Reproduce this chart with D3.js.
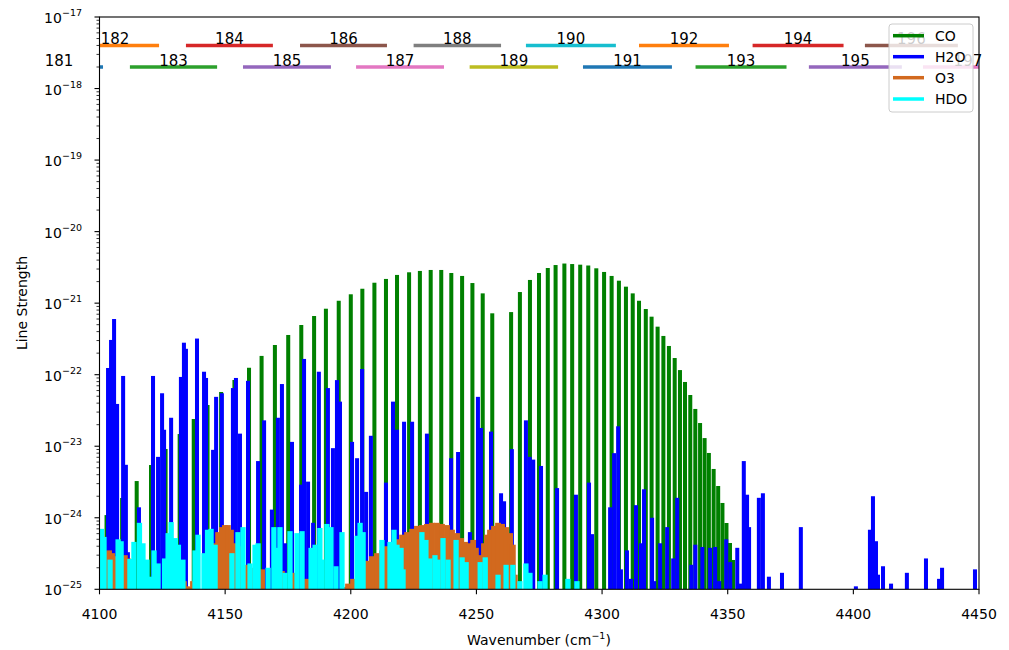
<!DOCTYPE html>
<html><head><meta charset="utf-8">
<script src="https://cdn.jsdelivr.net/npm/d3@7/dist/d3.min.js"></script>
<style>
body{margin:0;background:#fff;}
svg{font-family:"DejaVu Sans",sans-serif;}
</style></head>
<body>
<svg id="c" width="1009" height="650"></svg>
<script>
// ---------------- DATA ----------------
const xTicks = [4100,4150,4200,4250,4300,4350,4400,4450];
const yTickExps = [-25,-24,-23,-22,-21,-20,-19,-18,-17];

// CO (P branch then R branch)
const coWave = [4102.8,4109.0,4114.8,4120.5,4126.3,4131.9,4137.5,4143.0,4148.4,4153.7,4159.5,4164.5,4169.8,4175.1,4180.3,4185.4,4190.1,4195.2,4200.0,4204.6,4209.4,4214.0,4218.4,4223.2,4227.5,4231.8,4236.0,4240.0,4244.3,4248.4,4252.5,4256.3,
 4263.8,4267.3,4271.3,4274.9,4278.4,4281.5,4285.0,4288.1,4291.3,4294.5,4297.7,4300.8,4303.8,4306.7,4309.5,4312.2,4314.7,4317.4,4319.7,4322.1,4324.4,4326.6,4328.9,4331.0,4333.0,4335.1,4337.1,4339.0,4340.8,4342.5,4344.4,4346.2,4347.9,4349.5,4350.9,4352.1];
const coStr = [1.09e-24,1.89e-24,3.26e-24,5.46e-24,9.15e-24,1.48e-23,2.40e-23,3.77e-23,5.73e-23,8.43e-23,1.25e-22,1.83e-22,2.60e-22,3.59e-22,4.95e-22,6.61e-22,8.36e-22,1.08e-21,1.33e-21,1.59e-21,1.93e-21,2.18e-21,2.48e-21,2.70e-21,2.82e-21,2.91e-21,2.91e-21,2.64e-21,2.40e-21,1.91e-21,1.37e-21,7.21e-22,
 7.5e-22,1.43e-21,2.11e-21,2.64e-21,3.10e-21,3.41e-21,3.58e-21,3.52e-21,3.45e-21,3.36e-21,3.07e-21,2.73e-21,2.40e-21,2.06e-21,1.70e-21,1.37e-21,1.08e-21,8.28e-22,6.47e-22,4.69e-22,3.48e-22,2.52e-22,1.71e-22,1.16e-22,7.91e-23,5.20e-23,3.32e-23,2.11e-23,1.30e-23,8.05e-24,4.81e-24,2.78e-24,1.61e-24,8.45e-25,4.44e-25,2.57e-25];

// H2O
const h2oWave = [4103.4,4104.6,4105.8,4107.0,4109.4,4110.5,4111.3,4115.7,4121.3,4123.3,4124.9,4125.7,4128.5,4132.4,4133.6,4134.4,4138.8,4141.6,4142.4,4145.2,4146.4,4148.7,4153.1,4154.3,4155.9,4159.1,4163.1,4165.5,4168.6,4171.0,4172.6,4173.8,4176.6,4180.2,4181.4,4183.0,4185.0,4187.3,4190.9,4192.9,4194.5,4195.7,4200.5,4202.5,4204.5,4206.1,4208.0,4214.0,4216.8,4218.4,4221.2,4224.4,4230.3,4239.9,4242.7,4247.4,4250.6,4251.8,4255.8,4259.8,4261.0,4264.1,4269.7,4271.2,4272.6,4275.7,4282.1,4289.6,4294.8,4296.0,4303.2,4304.8,4306.4,4307.5,4309.9,4311.5,4313.5,4315.5,4316.7,4319.9,4320.7,4323.1,4325.9,4328.3,4329.9,4335.5,4337.1,4339.9,4343.0,4345.0,4346.6,4349.4,4351.0,4353.8,4355.0,4356.4,4357.7,4358.5,4362.4,4364.0,4366.4,4371.6,4379.1,4401.0,4406.6,4407.8,4409.0,4409.8,4411.8,4415.0,4421.3,4428.9,4434.1,4435.3,4448.4];
const h2oStr = [1.24e-22,3.06e-22,6.0e-22,3.9e-23,9.6e-23,5.5e-24,3.3e-25,1.4e-24,9.6e-23,7.1e-24,5.5e-23,1.7e-23,2.5e-23,9.3e-23,2.8e-22,2.3e-22,3.2e-22,1.1e-22,9.0e-23,8.9e-24,4.9e-23,5.5e-23,6.5e-23,9.0e-23,1.5e-23,8.2e-23,6.2e-24,2.3e-23,1.3e-24,2.5e-23,7.4e-23,4.4e-25,1.15e-23,2.9e-24,1.66e-22,3.2e-24,8.5e-25,1.1e-22,6.5e-23,9.4e-24,8.4e-23,4.2e-23,1.15e-23,6.8e-24,1.2e-22,2.3e-24,1.4e-23,3.1e-24,4.2e-23,1.7e-23,2.2e-23,2.2e-23,1.5e-23,6.8e-24,8.3e-24,6.3e-25,4.9e-23,1.8e-23,1.6e-23,2.2e-24,1.7e-24,9.1e-24,2.3e-23,7.1e-24,6.5e-24,5.3e-24,2.6e-24,2.1e-24,3.1e-24,5.9e-25,1.4e-24,8.0e-24,1.9e-23,1.9e-25,3.5e-25,1.4e-25,1.5e-24,4.4e-25,2.5e-24,1.0e-24,1.3e-25,4.4e-25,7.4e-25,2.7e-25,1.9e-24,2.2e-25,4.2e-25,3.9e-25,3.8e-25,3.9e-25,1.3e-25,5.0e-25,2.4e-25,3.8e-25,1.2e-25,6.2e-24,2.1e-24,7.4e-25,1.9e-24,2.2e-24,1.5e-25,1.7e-25,7.4e-25,1.1e-25,6.8e-25,2.0e-24,4.7e-25,1.6e-25,2.1e-25,1.2e-25,1.7e-25,2.7e-25,1.4e-25,2.0e-25,1.9e-25];

// O3
const o3Wave = [4100.2,4101.4,4102.6,4103.8,4105.0,4106.2,4109.0,4110.1,4111.3,4112.5,4132.4,4133.6,4134.8,4136.0,4137.2,4138.4,4144.8,4146.0,4147.2,4148.7,4149.9,4151.1,4152.3,4153.5,4155.1,4156.7,4159.1,4161.1,4163.1,4164.7,4172.6,4177.0,4182.6,
 4197.7,4198.9,4200.9,4202.9,4204.9,4206.4,4208.4,4210.4,4212.4,4214.4,4216.4,4218.4,4220.4,4222.4,4224.4,4226.3,4228.3,4230.3,4232.3,4234.3,4236.3,4238.3,4240.3,4242.3,4243.9,4245.5,4247.1,4248.7,4249.8,4250.6,4251.8,4253.0,4254.2,4255.4,4257.0,4258.6,4260.2,4261.8,4263.4,4264.5,4265.3];
const o3Str = [3.5e-25,3.8e-25,3.3e-25,3.5e-25,3.2e-25,2.9e-25,2.9e-25,3.0e-25,2.7e-25,2.4e-25,1.5e-25,1.3e-25,1.1e-25,1.08e-25,1.3e-25,1.4e-25,2.6e-25,4.4e-25,6.3e-25,7.4e-25,7.9e-25,7.9e-25,6.8e-25,4.4e-25,4.0e-25,3.5e-25,2.2e-25,2.0e-25,1.6e-25,1.9e-25,1.8e-25,1.7e-25,1.4e-25,
 1.08e-25,1.2e-25,1.4e-25,1.5e-25,2.0e-25,2.5e-25,2.9e-25,3.2e-25,3.5e-25,4.0e-25,4.4e-25,5.0e-25,5.8e-25,6.3e-25,7.0e-25,7.7e-25,7.9e-25,8.2e-25,8.5e-25,8.5e-25,8.2e-25,7.9e-25,6.8e-25,6.1e-25,5.2e-25,4.6e-25,4.4e-25,4.9e-25,3.8e-25,2.6e-25,3.0e-25,4.4e-25,5.8e-25,6.8e-25,7.7e-25,8.5e-25,8.2e-25,7.4e-25,6.1e-25,4.2e-25,1.6e-25];

// HDO
const hdoWave = [4100.8,4101.8,4104.2,4107.4,4108.6,4112.1,4113.7,4115.9,4117.3,4118.9,4120.5,4121.7,4123.3,4125.9,4127.3,4128.5,4130.2,4131.4,4133.2,4138.0,4139.2,4141.6,4143.0,4144.4,4146.0,4152.7,4155.1,4157.1,4159.9,4161.9,4163.1,4167.1,4169.4,4170.6,4171.8,4173.8,4175.8,4178.6,4180.6,4184.2,4185.8,4187.7,4188.5,4190.5,4192.1,4194.1,4196.5,4202.5,4203.7,4204.9,4212.4,4215.6,4217.2,4218.4,4220.0,4220.8,4228.3,4229.9,4231.5,4233.5,4234.7,4236.7,4238.7,4241.9,4244.3,4245.9,4251.5,4253.5,4258.6,4261.8,4264.5,4267.3,4269.7,4271.3,4275.3,4277.3,4286.4,4290.0];
const hdoStr = [7.0e-25,5.4e-25,2.6e-25,5.0e-25,4.7e-25,2.65e-25,4.6e-25,8.5e-25,4.4e-25,2.6e-25,1.5e-25,3.5e-25,2.3e-25,2.7e-25,6.1e-25,8.7e-25,5.2e-25,4.2e-25,2.6e-25,3.5e-25,5.8e-25,3.2e-25,6.8e-25,7.0e-25,4.2e-25,3.2e-25,6.3e-25,7.4e-25,2.3e-25,4.2e-25,4.4e-25,2.0e-25,7.4e-25,3.8e-25,7.4e-25,1.7e-25,6.5e-25,6.1e-25,6.5e-25,3.8e-25,4.2e-25,7.2e-25,2.6e-25,8.2e-25,7.4e-25,2.1e-25,6.3e-25,5.6e-25,8.5e-25,6.3e-25,4.9e-25,4.6e-25,6.8e-25,4.2e-25,3.8e-25,1.9e-25,6.3e-25,4.9e-25,2.7e-25,3.0e-25,2.6e-25,5.2e-25,2.6e-25,4.9e-25,2.8e-25,2.4e-25,2.4e-25,2.8e-25,1.6e-25,2.2e-25,2.2e-25,1.3e-25,2.3e-25,1.7e-25,1.3e-25,1.6e-25,1.4e-25,1.3e-25];

// Spectral windows
const winIds   = [181,182,183,184,185,186,187,188,189,190,191,192,193,194,195,196,197];
const winStart = [4066.4,4088.7,4112.1,4134.4,4157.1,4179.8,4202.1,4225.0,4247.3,4269.7,4292.4,4314.7,4337.2,4359.9,4382.3,4404.6,4427.7];
const winEnd   = [4101.4,4123.7,4146.8,4169.0,4192.1,4214.4,4237.1,4259.8,4282.5,4305.5,4327.8,4350.5,4373.4,4396.1,4419.3,4441.6,4463.5];
const winLevel = [2e-18,4e-18]; // odd ids lower row, even ids upper row

const species = ["CO","H2O","O3","HDO"];
const speciesColor = {CO:"#008000",H2O:"#0000ff",O3:"#d2691e",HDO:"#00ffff"};
const tab10 = ["#1f77b4","#ff7f0e","#2ca02c","#d62728","#9467bd","#8c564b","#e377c2","#7f7f7f","#bcbd22","#17becf"];

// ---------------- CHART ----------------
const L=99.5,R=979,T=17,B=589.3;
const svg=d3.select("#c");
const x=d3.scaleLinear().domain([4100,4450]).range([L,R]);
const y=d3.scaleLog().domain([1e-25,1e-17]).range([B,T]);

svg.append("defs").append("clipPath").attr("id","clip")
  .append("rect").attr("x",L).attr("y",T).attr("width",R-L).attr("height",B-T);
const plot=svg.append("g").attr("clip-path","url(#clip)");

function bars(wave,str,color,bw){
  const data=wave.map((w,i)=>({w,s:str[i]}));
  plot.append("g").selectAll("rect").data(data).join("rect")
    .attr("x",d=>x(d.w-bw/2))
    .attr("width",d=>x(d.w+bw/2)-x(d.w-bw/2))
    .attr("y",d=>y(d.s))
    .attr("height",d=>y(1e-25)-y(d.s))
    .attr("fill",color);
}
bars(coWave,coStr,speciesColor.CO,1.6);
bars(h2oWave,h2oStr,speciesColor.H2O,1.6);
bars(o3Wave,o3Str,speciesColor.O3,2.3);
bars(hdoWave,hdoStr,speciesColor.HDO,2.1);

// windows
const wins=winIds.map((id,i)=>({id,a:winStart[i],b:winEnd[i],lvl:winLevel[(id%2===0)?1:0],c:tab10[i%10]}));
plot.append("g").selectAll("line").data(wins).join("line")
  .attr("x1",d=>x(d.a)).attr("x2",d=>x(d.b))
  .attr("y1",d=>y(d.lvl)).attr("y2",d=>y(d.lvl))
  .attr("stroke",d=>d.c).attr("stroke-width",3.5);
svg.append("g").selectAll("text").data(wins).join("text")
  .attr("x",d=>x((d.a+d.b)/2)).attr("y",d=>y(d.lvl)-1.5)
  .attr("text-anchor","middle").attr("font-size",15).attr("fill","#000")
  .text(d=>d.id);

// axes frame
svg.append("rect").attr("x",L).attr("y",T).attr("width",R-L).attr("height",B-T)
  .attr("fill","none").attr("stroke","#000").attr("stroke-width",1.1);

// x ticks
const gx=svg.append("g");
xTicks.forEach(t=>{
  gx.append("line").attr("x1",x(t)).attr("x2",x(t)).attr("y1",B).attr("y2",B+5).attr("stroke","#000").attr("stroke-width",1.1);
  gx.append("text").attr("x",x(t)).attr("y",619).attr("text-anchor","middle").attr("font-size",14).text(t);
});
// y ticks
const gy=svg.append("g");
yTickExps.forEach(e=>{
  const v=Math.pow(10,e), py=y(v);
  gy.append("line").attr("x1",L-5).attr("x2",L).attr("y1",py).attr("y2",py).attr("stroke","#000").attr("stroke-width",1.1);
  const t=gy.append("text").attr("x",82).attr("y",py+6).attr("text-anchor","end").attr("font-size",14);
  t.append("tspan").text("10");
  t.append("tspan").attr("font-size",9.5).attr("dy",-7).text("\u2212"+Math.abs(e));
  if(e<-17){
    for(let m=2;m<=9;m++){
      const my=y(m*v);
      gy.append("line").attr("x1",L-3).attr("x2",L).attr("y1",my).attr("y2",my).attr("stroke","#000").attr("stroke-width",0.8);
    }
  }
});

// axis labels
const xl=svg.append("text").attr("x",539).attr("y",645).attr("text-anchor","middle").attr("font-size",14);
xl.append("tspan").text("Wavenumber (cm");
xl.append("tspan").attr("font-size",9.5).attr("dy",-6).text("\u22121");
xl.append("tspan").attr("dy",6).text(")");
svg.append("text").attr("transform","translate(27,303) rotate(-90)").attr("text-anchor","middle").attr("font-size",14).text("Line Strength");

// legend
const lg=svg.append("g");
lg.append("rect").attr("x",889).attr("y",24).attr("width",84).attr("height",88).attr("rx",3)
  .attr("fill","#fff").attr("fill-opacity",0.8).attr("stroke","#cccccc").attr("stroke-width",1);
const ly=[35.7,56.7,77.7,99];
species.forEach((s,i)=>{
  lg.append("line").attr("x1",893).attr("x2",924).attr("y1",ly[i]).attr("y2",ly[i]).attr("stroke",speciesColor[s]).attr("stroke-width",3.5);
  lg.append("text").attr("x",935).attr("y",ly[i]+5).attr("font-size",14).text(s);
});
</script>
</body></html>
